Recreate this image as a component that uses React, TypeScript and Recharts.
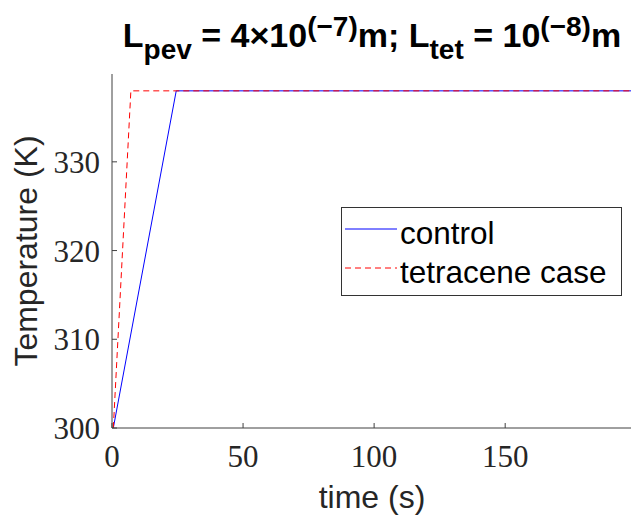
import React from 'react';
import { LineChart, Line, XAxis, YAxis, Legend, Customized } from 'recharts';

const W = 633;
const H = 518;

// data
const seriesNames = ['control', 'tetracene case'];
const controlTime = [0.5, 24.5, 198];
const controlTemp = [300, 338, 338];
const tetraceneTime = [0.5, 7.2, 198];
const tetraceneTemp = [300, 338, 338];
const xTicks = [0, 50, 100, 150];
const yTicks = [300, 310, 320, 330];
const xDomain = [0, 198];
const yDomain = [300, 339.9];

const controlData = controlTime.map((t, i) => ({ t, T: controlTemp[i] }));
const tetraceneData = tetraceneTime.map((t, i) => ({ t, T: tetraceneTemp[i] }));

const AXIS = '#404040';
const TICK_FONT = { fill: '#262626', fontSize: 31, fontFamily: 'Liberation Serif' };

const renderLegend = () => (
  <svg width={281} height={89} style={{ display: 'block' }}>
    <rect x={0.5} y={0.5} width={280} height={88} fill="#fff" stroke="#333" strokeWidth={1} />
    <line x1={4} x2={56} y1={22} y2={22} stroke="#0000ff" strokeWidth={1} />
    <line x1={4} x2={56} y1={61} y2={61} stroke="#ff0000" strokeWidth={1} strokeDasharray="6 4" />
    <text x={59} y={37} fontFamily="Liberation Sans" fontSize={31.5} fill="#000">{seriesNames[0]}</text>
    <text x={59} y={76} fontFamily="Liberation Sans" fontSize={31.5} fill="#000">{seriesNames[1]}</text>
  </svg>
);

const Texts = () => (
  <g>
    <text x={372} y={47} textAnchor="middle" fontFamily="Liberation Sans" fontWeight="bold" fontSize={34} fill="#000">
      L<tspan fontSize={28} dy={12}>pev</tspan>
      <tspan dy={-12}> = 4×10</tspan>
      <tspan fontSize={28} dy={-11}>(−7)</tspan>
      <tspan dy={11}>m; L</tspan>
      <tspan fontSize={28} dy={12}>tet</tspan>
      <tspan dy={-12}> = 10</tspan>
      <tspan fontSize={28} dy={-11}>(−8)</tspan>
      <tspan dy={11}>m</tspan>
    </text>
    <text x={372} y={508} textAnchor="middle" fontFamily="Liberation Sans" fontSize={32} fill="#262626">
      time (s)
    </text>
    <text x={37} y={251} transform="rotate(-90 37 251)" textAnchor="middle" fontFamily="Liberation Sans" fontSize={32} fill="#262626">
      Temperature (K)
    </text>
  </g>
);

export default function App() {
  return (
    <div style={{ position: 'absolute', left: 0, top: 0, width: W, height: H, background: '#fff' }}>
      <LineChart width={W} height={H} margin={{ top: 74, right: 2, bottom: 0, left: 0 }}>
        <XAxis
          xAxisId="b"
          type="number"
          dataKey="t"
          domain={xDomain}
          ticks={xTicks}
          interval={0}
          allowDataOverflow
          height={90}
          tickSize={-5}
          tickMargin={22}
          stroke={AXIS}
          tick={TICK_FONT}
        />
        <XAxis
          xAxisId="t"
          orientation="top"
          type="number"
          dataKey="t"
          domain={xDomain}
          ticks={xTicks}
          interval={0}
          allowDataOverflow
          height={0}
          tickSize={-5}
          tickFormatter={() => ''}
          stroke={AXIS}
        />
        <YAxis
          yAxisId="l"
          type="number"
          domain={yDomain}
          ticks={yTicks}
          interval={0}
          allowDataOverflow
          width={112}
          tickSize={-5}
          tickMargin={17}
          stroke={AXIS}
          tick={TICK_FONT}
        />
        <YAxis
          yAxisId="r"
          orientation="right"
          type="number"
          domain={yDomain}
          ticks={yTicks}
          interval={0}
          allowDataOverflow
          width={0}
          tickSize={-5}
          tickFormatter={() => ''}
          stroke={AXIS}
        />
        <Line
          xAxisId="b"
          yAxisId="l"
          data={controlData}
          dataKey="T"
          name={seriesNames[0]}
          stroke="#0000ff"
          strokeWidth={1}
          dot={false}
          isAnimationActive={false}
        />
        <Line
          xAxisId="b"
          yAxisId="l"
          data={tetraceneData}
          dataKey="T"
          name={seriesNames[1]}
          stroke="#ff0000"
          strokeWidth={1}
          strokeDasharray="6 4"
          dot={false}
          isAnimationActive={false}
        />
        <Legend
          layout="horizontal"
          align="center"
          verticalAlign="middle"
          content={renderLegend}
          wrapperStyle={{ position: 'absolute', left: 341, top: 207, width: 281, height: 89 }}
        />
        <Customized component={Texts} />
      </LineChart>
    </div>
  );
}
